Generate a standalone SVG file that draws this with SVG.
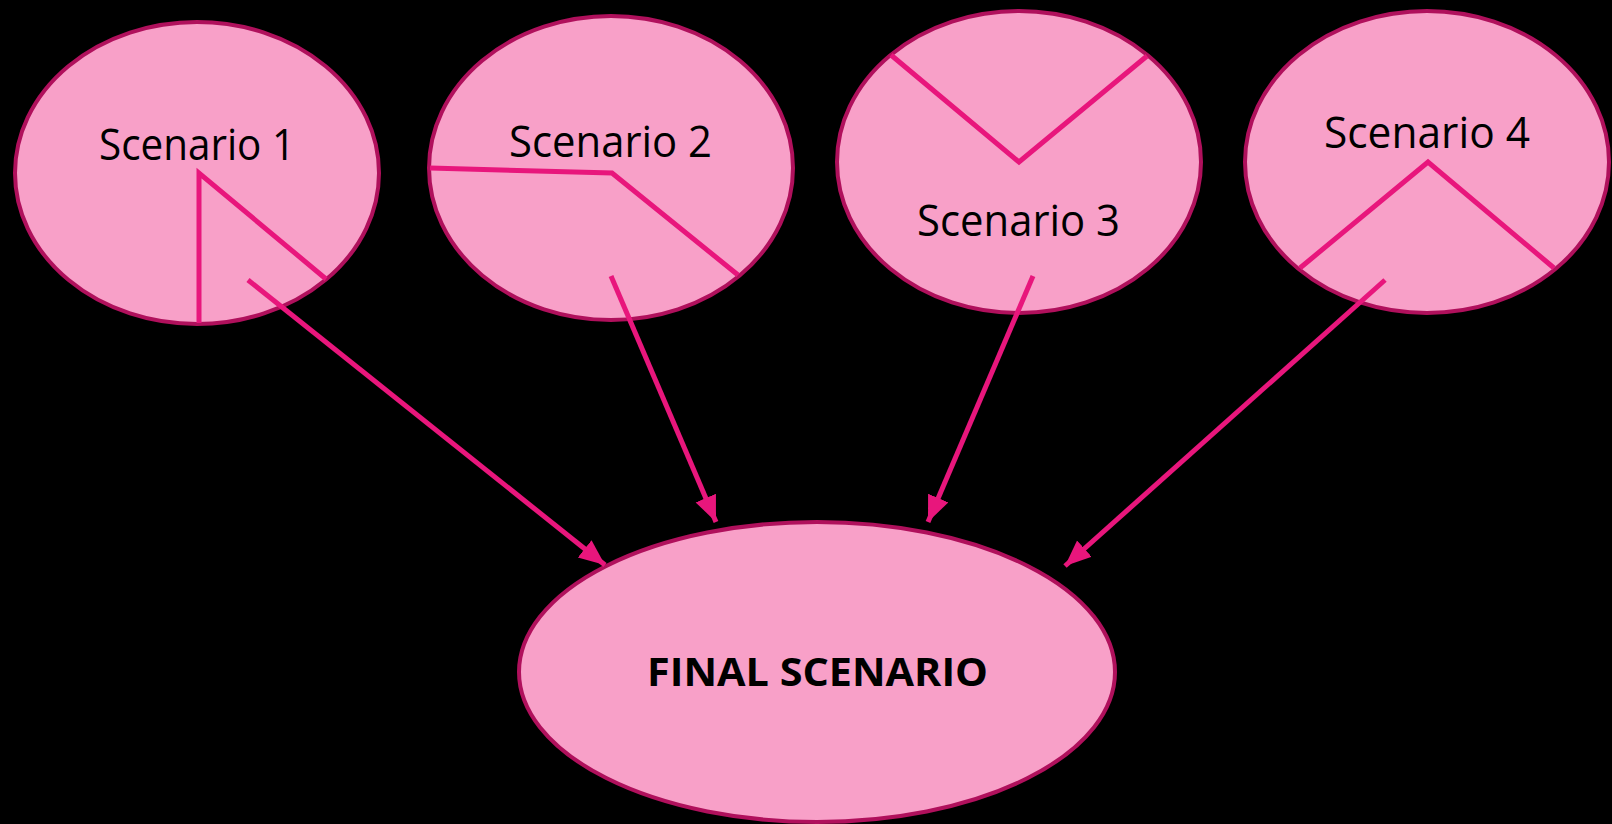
<svg xmlns="http://www.w3.org/2000/svg" width="1612" height="824" viewBox="0 0 1612 824">
  <defs>
    <style>
      .bubble { fill: #F8A0C8; stroke: #B0105C; stroke-width: 4; }
      .cut { fill: none; stroke: #E8167C; stroke-width: 5; stroke-linejoin: miter; }
      .link { fill: none; stroke: #E8167C; stroke-width: 5; }
      .label { font-family: "Open Sans", "Noto Sans", sans-serif; font-size: 43px; fill: #000; }
      .title { font-family: "Open Sans", "Noto Sans", sans-serif; font-size: 39px; font-weight: bold; fill: #000; }
    </style>
    <marker id="arrow" markerUnits="userSpaceOnUse" markerWidth="28" markerHeight="24" refX="26" refY="11" orient="auto">
      <path d="M0,0 L26,11 L0,22 Z" fill="#E8167C"/>
    </marker>
  </defs>
  <rect x="0" y="0" width="1612" height="824" fill="#000"/>

  <g id="scenario-1">
    <ellipse class="bubble" cx="197" cy="173" rx="182" ry="151" stroke-width="5"/>
    <polyline class="cut" points="199,323 199,173 326,279"/>
    <text class="label" x="99" y="160" textLength="196" lengthAdjust="spacingAndGlyphs">Scenario 1</text>
  </g>

  <g id="scenario-2">
    <ellipse class="bubble" cx="611" cy="168" rx="182" ry="152"/>
    <polyline class="cut" points="430,168 612,173 738,275"/>
    <text class="label" x="509" y="157" textLength="203" lengthAdjust="spacingAndGlyphs">Scenario 2</text>
  </g>

  <g id="scenario-3">
    <ellipse class="bubble" cx="1019" cy="162" rx="182" ry="151"/>
    <polyline class="cut" points="891,55 1019,162 1147,56"/>
    <text class="label" x="917" y="236" textLength="203" lengthAdjust="spacingAndGlyphs">Scenario 3</text>
  </g>

  <g id="scenario-4">
    <ellipse class="bubble" cx="1427" cy="162" rx="182" ry="151"/>
    <polyline class="cut" points="1300,268 1428,162 1554,268"/>
    <text class="label" x="1324" y="148" textLength="206" lengthAdjust="spacingAndGlyphs">Scenario 4</text>
  </g>

  <g id="final-scenario">
    <ellipse class="bubble" cx="817" cy="672" rx="298" ry="150"/>
    <text class="title" x="647" y="686" textLength="341" lengthAdjust="spacingAndGlyphs">FINAL SCENARIO</text>
  </g>

  <g id="connectors">
    <line class="link" x1="248" y1="280" x2="605" y2="565" marker-end="url(#arrow)"/>
    <line class="link" x1="611" y1="276" x2="716" y2="522" marker-end="url(#arrow)"/>
    <line class="link" x1="1033" y1="276" x2="928" y2="522" marker-end="url(#arrow)"/>
    <line class="link" x1="1385" y1="280" x2="1065" y2="566" marker-end="url(#arrow)"/>
  </g>
</svg>
